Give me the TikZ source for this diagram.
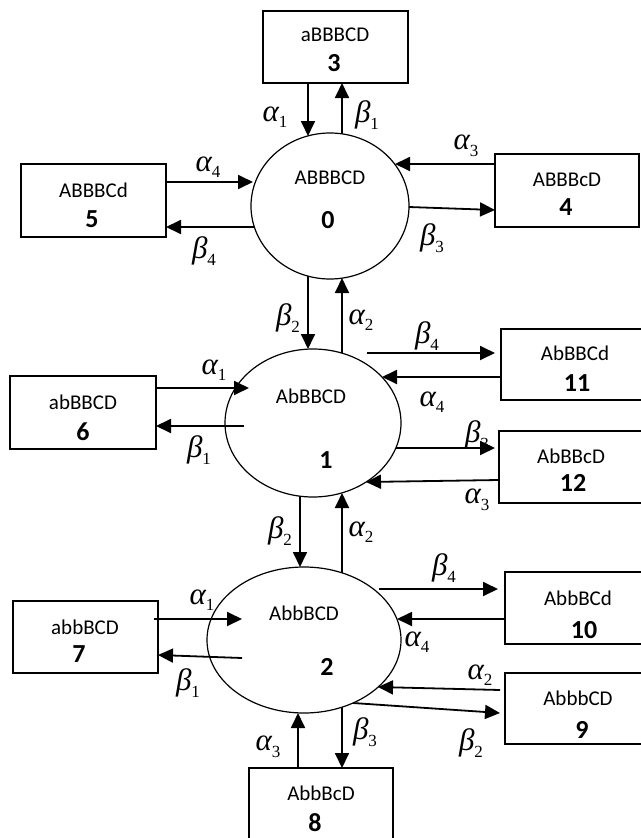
\documentclass[tikz,border=0pt]{standalone}
\usepackage{fontspec}
\setmainfont{Carlito}
\newfontfamily\grkfont{Liberation Serif}
\usetikzlibrary{calc,arrows.meta,shapes.geometric}
\newcommand\GSub[1]{\raisebox{-6.5pt}{\fontsize{17}{17}\selectfont\upshape #1}}
\newcommand\GA[1]{{\grkfont\fontsize{31}{33}\selectfont\itshape α\GSub{#1}}}
\newcommand\GB[1]{{\grkfont\fontsize{31}{33}\selectfont\itshape β\GSub{#1}}}
\begin{document}
\begin{tikzpicture}[x=1pt,y=-1pt,
 box/.style={draw,line width=1.2pt,inner sep=0},
 st/.style={draw,ellipse,line width=1.2pt,inner sep=0},
 lbl/.style={inner sep=0,font=\fontsize{21}{24}\selectfont},
 num/.style={inner sep=0,font=\fontsize{26}{28}\selectfont\bfseries},
 gl/.style={inner sep=0},
 arr/.style={line width=1.8pt,-{Triangle[length=15pt,width=14pt]}}]
\useasboundingbox (0,0) rectangle (640,838);

% states (ellipses)
\node[st,minimum width=158pt,minimum height=146pt] (c0) at (330,206) {};
\node[st,minimum width=176pt,minimum height=148pt] (c1) at (313,423) {};
\node[st,minimum width=194pt,minimum height=146pt] (c2) at (304,640) {};
\node[lbl] (t0) at (330,178) {ABBBCD};
\node[num] (n0) at (328,220) {0};
\node[lbl] (t1) at (311,396) {AbBBCD};
\node[num] (n1) at (326,460) {1};
\node[lbl] (t2) at (304,613) {AbbBCD};
\node[num] (n2) at (327,667) {2};

% boxes
\node[box,minimum width=145pt,minimum height=72pt] (b3) at (335.5,47) {};
\node[lbl] (t3) at (335,35) {aBBBCD};
\node[num] (n3) at (334,63) {3};
\node[box,minimum width=145pt,minimum height=73pt] (b5) at (93.5,200.5) {};
\node[lbl] (t5) at (93.5,190) {ABBBCd};
\node[num] (n5) at (92,219) {5};
\node[box,minimum width=144pt,minimum height=73pt] (b4) at (567,190.5) {};
\node[lbl] (t4) at (567,180) {ABBBcD};
\node[num] (n4) at (566,207) {4};
\node[box,minimum width=146pt,minimum height=73pt] (b6) at (83,412.5) {};
\node[lbl] (t6) at (83,402) {abBBCD};
\node[num] (n6) at (83,432) {6};
\node[box,minimum width=148pt,minimum height=71pt] (b11) at (575,364.5) {};
\node[lbl] (t11) at (575,353) {AbBBCd};
\node[num] (n11) at (577,383) {11};
\node[box,minimum width=146pt,minimum height=72pt] (b12) at (572,467) {};
\node[lbl] (t12) at (571,456) {AbBBcD};
\node[num] (n12) at (573,483) {12};
\node[box,minimum width=145pt,minimum height=72pt] (b7) at (85.5,637) {};
\node[lbl] (t7) at (85,627) {abbBCD};
\node[num] (n7) at (79,654) {7};
\node[box,minimum width=146pt,minimum height=72pt] (b10) at (578,608) {};
\node[lbl] (t10) at (578,598) {AbbBCd};
\node[num] (n10) at (584,630) {10};
\node[box,minimum width=146pt,minimum height=71pt] (b9) at (578,708.5) {};
\node[lbl] (t9) at (578,698) {AbbbCD};
\node[num] (n9) at (582,730) {9};
\node[box,minimum width=144pt,minimum height=72pt] (b8) at (321,804) {};
\node[lbl] (t8) at (321,793) {AbbBcD};
\node[num] (n8) at (315,823) {8};

% arrows around state 0
\draw[arr] ($(b3)+(-27.5,36)$) -- ($(c0)+(-22,-70)$);
\draw[arr] ($(c0)+(12,-72)$) -- ($(b3)+(6.5,36)$);
\draw[arr] ($(b5)+(72.5,-18.5)$) -- ($(c0)+(-77,-24)$);
\draw[arr] ($(c0)+(-76,21)$) -- ($(b5)+(72.5,26.5)$);
\draw[arr] ($(b4)+(-72,-26.5)$) -- ($(c0)+(65,-42)$);
\draw[arr] ($(c0)+(79,1)$) -- ($(b4)+(-72,19.5)$);
\draw[arr] ($(c0)+(-22,70)$) -- ($(c1)+(-5,-74)$);
\draw[arr] ($(c1)+(29,-70)$) -- ($(c0)+(12,72)$);

% arrows around state 1
\draw[arr] ($(c1)+(54,-70)$) -- ($(b11)+(-80,-11.5)$);
\draw[arr] ($(b11)+(-74,12.5)$) -- ($(c1)+(69,-46)$);
\draw[arr] ($(c1)+(83,25)$) -- ($(b12)+(-77,-19)$);
\draw[arr] ($(b12)+(-73,13)$) -- ($(c1)+(53,59)$);
\draw[arr] ($(b6)+(73,-24.5)$) -- ($(c1)+(-64,-35)$);
\draw[arr] ($(c1)+(-69,3)$) -- ($(b6)+(73,13.5)$);
\draw[arr] ($(c1)+(-13,73)$) -- ($(c2)+(-4,-73)$);
\draw[arr] ($(c2)+(38,-67)$) -- ($(c1)+(29,70)$);

% arrows around state 2
\draw[arr] ($(c2)+(75,-51)$) -- ($(b10)+(-80,-19)$);
\draw[arr] ($(b10)+(-73,11)$) -- ($(c2)+(93,-21)$);
\draw[arr] ($(b9)+(-78,-18.5)$) -- ($(c2)+(74,47)$);
\draw[arr] ($(c2)+(49,63)$) -- ($(b9)+(-78,4.5)$);
\draw[arr] ($(b8)+(-23,-36)$) -- ($(c2)+(-6,73)$);
\draw[arr] ($(c2)+(38,67)$) -- ($(b8)+(21,-36)$);
\draw[arr] ($(b7)+(68.5,-18)$) -- ($(c2)+(-62,-21)$);
\draw[arr] ($(c2)+(-62,18)$) -- ($(b7)+(72.5,18)$);

% rate labels
\node[gl] (l1) at (275,117) {\GA{1}};
\node[gl] (l2) at (367,115) {\GB{1}};
\node[gl] (l3) at (208,167) {\GA{4}};
\node[gl] (l4) at (204,251) {\GB{4}};
\node[gl] (l5) at (466,146) {\GA{3}};
\node[gl] (l6) at (432,238) {\GB{3}};
\node[gl] (l7) at (288,318) {\GB{2}};
\node[gl] (l8) at (361,320) {\GA{2}};
\node[gl] (l9) at (427,336) {\GB{4}};
\node[gl] (l10) at (432,402) {\GA{4}};
\node[gl] (l11) at (477,435) {\GB{3}};
\node[gl] (l12) at (477,500) {\GA{3}};
\node[gl] (l13) at (214,370) {\GA{1}};
\node[gl] (l14) at (199,450) {\GB{1}};
\node[gl] (l15) at (280,531) {\GB{2}};
\node[gl] (l16) at (361,532) {\GA{2}};
\node[gl] (l17) at (444,568) {\GB{4}};
\node[gl] (l18) at (417,642) {\GA{4}};
\node[gl] (l19) at (480,675) {\GA{2}};
\node[gl] (l20) at (471,743) {\GB{2}};
\node[gl] (l21) at (365,732) {\GB{3}};
\node[gl] (l22) at (268,747) {\GA{3}};
\node[gl] (l23) at (202,600) {\GA{1}};
\node[gl] (l24) at (188,683) {\GB{1}};
\end{tikzpicture}
\end{document}
